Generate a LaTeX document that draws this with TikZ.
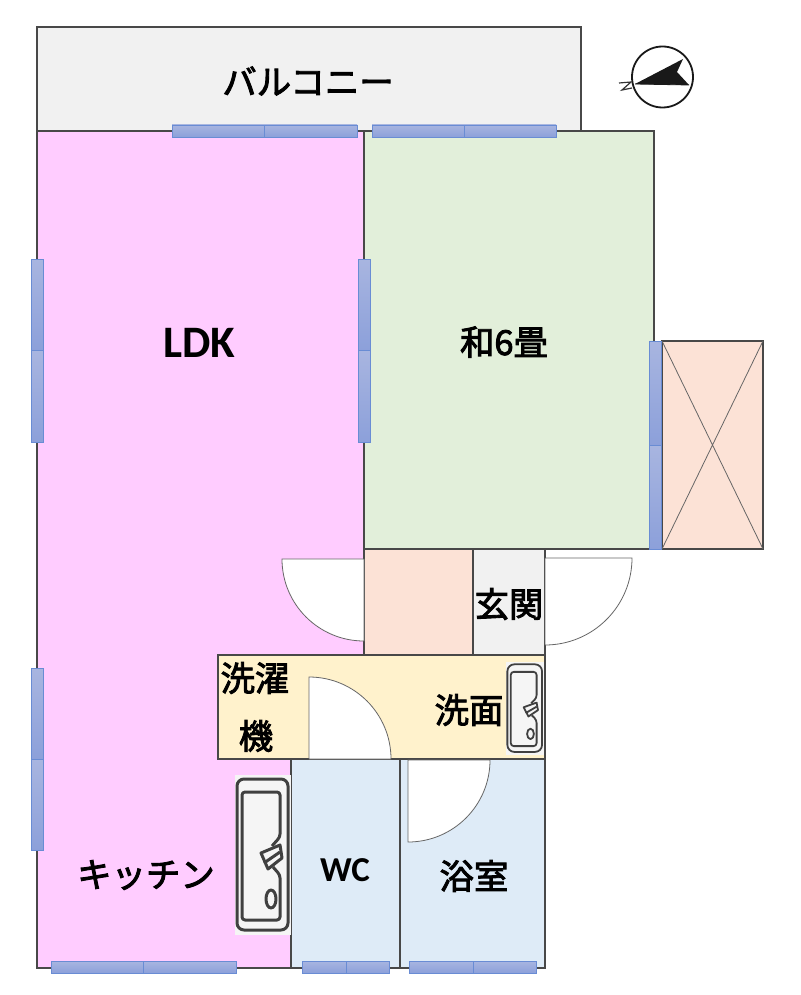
\documentclass[tikz,border=0pt]{standalone}
\usepackage{fontspec}
\usepackage{xcolor}
\setmainfont{Carlito}
\newfontfamily\jpfont[FakeBold=2.6]{Noto Sans CJK JP}
\usetikzlibrary{positioning}
\definecolor{wallc}{RGB}{72, 72, 72}
\definecolor{ldkc}{RGB}{255, 204, 255}
\definecolor{washitsuc}{RGB}{226, 239, 218}
\definecolor{peachc}{RGB}{252, 226, 214}
\definecolor{greyc}{RGB}{241, 241, 241}
\definecolor{senmenc}{RGB}{255, 242, 204}
\definecolor{bathc}{RGB}{222, 235, 247}
\definecolor{winc}{RGB}{105, 140, 212}
\definecolor{winlight}{RGB}{168, 181, 224}
\definecolor{windark}{RGB}{140, 160, 218}

\newcommand{\sinkicon}[5]{
    \begin{scope}[shift={(#1,#2)}, xscale=#3, yscale=#4, line width=#5, draw=black!75, line join=round]
        \fill[white!96!black] (0,0) rectangle (56,160);
        \draw[rounded corners=7] (2,4) rectangle (53,155);
        \draw[rounded corners=3] (37,71) -- (45,62) -- (45,17) -- (7,17) -- (7,145) -- (45,145) -- (45,100) -- (38,92);
        \draw (26,78) -- (45,70) -- (47,83) -- (33,94) -- cycle;
        \draw (29,88) -- (45,77);
        \draw (36,124) ellipse [x radius=5, y radius=9];
    \end{scope}
}

\begin{document}
\begin{tikzpicture}[x=1pt, y=-1pt,
    room/.style={draw=wallc, line width=1.1pt},
    door/.style={draw=black!60, fill=white, line width=0.8pt},
    winpane/.style={draw=winc, line width=0.9pt, top color=winlight, bottom color=windark},
    label/.style={inner sep=0pt, font=\jpfont\fontsize{34.4}{34.4}\selectfont}]

    \useasboundingbox[fill=white] (0,0) rectangle (800,995);

    \path[room, fill=greyc] (37,27) rectangle (581,131);
    \path[room, fill=ldkc] (37,131) -- (364,131) -- (364,655) -- (218,655) -- (218,759) -- (291,759) -- (291,968) -- (37,968) -- cycle;
    \path[room, fill=washitsuc] (364,131) rectangle (654,549);
    \path[room, fill=peachc] (662,341) rectangle (763,549);
    \draw[draw=black!60, line width=0.8pt] (662,341) -- (763,549) (763,341) -- (662,549);
    \path[room, fill=peachc] (364,549) rectangle (473,655);
    \path[room, fill=greyc] (473,549) rectangle (545,655);
    \path[room, fill=senmenc] (218,655) rectangle (545,759);
    \path[room, fill=bathc] (291,759) rectangle (400,968);
    \path[room, fill=bathc] (400,759) rectangle (545,968);

    \path[door] (364,559) -- (282,559) arc[start angle=180, end angle=90, radius=82] -- cycle;
    \path[door] (545,558) -- (632,558) arc[start angle=0, end angle=90, radius=87] -- cycle;
    \path[door] (309,759) -- (309,677) arc[start angle=-90, end angle=0, radius=82] -- cycle;
    \path[door] (408,760) -- (490,760) arc[start angle=0, end angle=90, radius=82] -- cycle;

    \foreach \xa/\xb/\ya in {172/264/125, 264/357/125, 372/464/125, 464/556/125, 51/143/961, 143/236/961, 302/346/961, 346/389/961, 409/473/961, 473/536/961}
        \shade[winpane] (\xa,\ya) rectangle (\xb,\ya+12);
    \foreach \xa/\ya/\yb in {31/259/350, 31/350/442, 31/668/759, 31/759/850, 358/259/350, 358/350/442, 649/341/445, 649/445/549}
        \shade[winpane] (\xa,\ya) rectangle (\xa+12,\yb);

    \sinkicon{506}{662}{0.68}{0.58}{1.8pt}
    \sinkicon{235}{775}{1}{1}{3pt}

    \node[label] (balcony) at (308,81) {バルコニー};
    \node[inner sep=0pt, font=\fontsize{45}{45}\selectfont\bfseries] (ldk) at (199,343) {LDK};
    \node[label] (washitsu) at (504,342) {和6畳};
    \node[label] (genkan) at (509,604) {玄関};
    \node[label] (sentaku) at (255,678) {洗濯};
    \node[label] (ki) at (256,736) {機};
    \node[label] (senmen) at (469,710) {洗面};
    \node[label] (kitchen) at (146,875) {キッチン};
    \node[inner sep=0pt, font=\fontsize{35}{35}\selectfont\bfseries] (wc) at (345,870) {WC};
    \node[label] (yokushitsu) at (474,876) {浴室};

    \draw[line width=1.8pt, draw=black!90] (662.5,77) circle (30.5);
    \fill[black!90] (635,84) -- (683,59) -- (677,72) -- (689,85) -- cycle;
    \draw[line width=0.8pt, draw=black!90] (635,84) -- (689,85);
    \draw[line width=1.2pt, draw=black!80] (619,83) -- (631,82) -- (622,90) -- (632,88);
\end{tikzpicture}
\end{document}
